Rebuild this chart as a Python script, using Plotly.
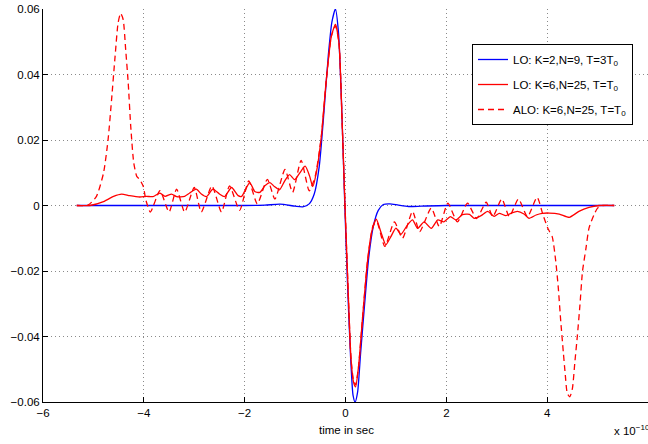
import plotly.graph_objects as go

# time axis in units of 1e-10 s
t_blue = [-5.33, -2.0, -1.6, -1.3, -1.0, -0.85, -0.72, -0.62, -0.52, -0.42, -0.34, -0.27, -0.2,
          -0.14, -0.08, -0.02, 0.04, 0.1, 0.15, 0.19, 0.24, 0.3, 0.38, 0.46, 0.55, 0.65, 0.75,
          0.88, 1.05, 1.25, 1.5, 2.0, 5.33]
y_blue = [0.0, 0.0, 0.0001, 0.0004, -0.0002, -0.0004, 0.0005, 0.0035, 0.012, 0.030, 0.046, 0.056, 0.060,
          0.053, 0.032, 0.003, -0.024, -0.046, -0.058, -0.060, -0.057, -0.045, -0.030, -0.016, -0.0065, -0.0015, 0.0003,
          0.0005, 0.0001, -0.0003, -0.0002, 0.0, 0.0]

t_lo = [-5.33, -5.07, -4.8, -4.6, -4.44, -4.28, -4.08, -3.95, -3.82, -3.68, -3.58, -3.45, -3.35, -3.19,
        -3.09, -2.96, -2.86, -2.76, -2.63, -2.5, -2.4, -2.26, -2.13, -2.06, -1.9, -1.8, -1.7, -1.6,
        -1.5, -1.41, -1.31, -1.21, -1.11, -1.01, -0.91, -0.8, -0.71, -0.65, -0.58, -0.48, -0.38,
        -0.28, -0.2, -0.13, -0.07, -0.01, 0.06, 0.11, 0.16, 0.2, 0.26, 0.34, 0.44, 0.52, 0.61, 0.7,
        0.8, 0.9, 1.0, 1.1, 1.23, 1.33, 1.43, 1.56, 1.7, 1.83, 1.95, 2.08, 2.19, 2.32, 2.46, 2.55,
        2.69, 2.82, 2.95, 3.05, 3.18, 3.28, 3.41, 3.54, 3.64, 3.78, 3.9, 4.04, 4.24, 4.44, 4.63,
        4.83, 5.03, 5.33]
y_lo = [0.0, 0.0, 0.0012, 0.0028, 0.0035, 0.003, 0.0026, 0.0028, 0.0027, 0.0038, 0.0028, 0.0035, 0.0027, 0.0028,
        0.0038, 0.005, 0.0035, 0.0027, 0.005, 0.0035, 0.0027, 0.0055, 0.003, 0.0028, 0.007, 0.0043, 0.004, 0.006,
        0.007, 0.0058, 0.0048, 0.0074, 0.0094, 0.0079, 0.0099, 0.012, 0.0089, 0.0058, 0.0099, 0.021, 0.0385,
        0.0517, 0.0553, 0.0497, 0.027, 0.0, -0.029, -0.047, -0.054, -0.0554, -0.049, -0.034, -0.0166, -0.008, -0.0042, -0.008,
        -0.012, -0.0095, -0.0069, -0.0088, -0.0059, -0.0044, -0.007, -0.005, -0.007, -0.0044, -0.005, -0.0034, -0.0044, -0.0028, -0.0027, -0.0039,
        -0.0031, -0.0018, -0.0033, -0.0024, -0.0031, -0.0024, -0.0018, -0.0026, -0.0039, -0.0029, -0.0024, -0.0023, -0.0026, -0.0036, -0.0018,
        -0.0006, 0.0, 0.0]

t_alo = [-5.33, -5.1, -4.94, -4.8, -4.71, -4.64, -4.57, -4.51, -4.46, -4.41, -4.36, -4.31, -4.26, -4.2,
         -4.14, -4.08, -4.01, -3.96, -3.87, -3.68, -3.5, -3.35, -3.19, -3.0, -2.86, -2.65, -2.46, -2.3,
         -2.1, -1.92, -1.75, -1.55, -1.4, -1.2, -1.05, -0.88, -0.72, -0.6, -0.48, -0.38, -0.28, -0.2,
         -0.13, -0.07, -0.01, 0.06, 0.11, 0.16, 0.2, 0.26, 0.34, 0.44, 0.55, 0.62, 0.78, 0.97, 1.13,
         1.33, 1.47, 1.7, 1.86, 2.03, 2.22, 2.42, 2.6, 2.79, 2.92, 3.1, 3.25, 3.43, 3.61, 3.8, 3.92,
         4.02, 4.1, 4.17, 4.22, 4.27, 4.32, 4.36, 4.4, 4.45, 4.5, 4.55, 4.6, 4.65, 4.7, 4.77, 4.83,
         4.93, 5.0, 5.1, 5.33]
y_alo = [0.0, 0.0002, 0.0028, 0.0099, 0.020, 0.0323, 0.0456, 0.0558, 0.0587, 0.0568, 0.0476, 0.0375, 0.0242, 0.013,
         0.0089, 0.0079, 0.0058, 0.0017, -0.002, 0.0045, -0.002, 0.005, -0.002, 0.0055, -0.002, 0.006, -0.002, 0.006,
         -0.0015, 0.0075, 0.0005, 0.008, 0.002, 0.011, 0.004, 0.0138, 0.0045, 0.009, 0.021, 0.0385, 0.0517, 0.0548,
         0.0497, 0.027, 0.0, -0.029, -0.047, -0.0535, -0.0548, -0.049, -0.034, -0.0166, -0.006, -0.005, -0.0125, -0.005, -0.010,
         -0.0018, -0.008, -0.0008, -0.0064, 0.0007, -0.005, 0.0007, -0.004, 0.001, -0.0034, 0.002, -0.0034, 0.002, -0.0034, 0.0025, -0.003,
         -0.0072, -0.0095, -0.017, -0.025, -0.0355, -0.0447, -0.0518, -0.0574, -0.0584, -0.0559, -0.0477, -0.0396, -0.0304, -0.0202, -0.013, -0.0069,
         -0.0028, -0.0008, 0.0, 0.0]

x_ticks = [-6, -4, -2, 0, 2, 4, 6]
x_labels = ["−6", "−4", "−2", "0", "2", "4", "6"]
y_ticks = [-0.06, -0.04, -0.02, 0, 0.02, 0.04, 0.06]
y_labels = ["−0.06", "−0.04", "−0.02", "0", "0.02", "0.04", "0.06"]

FONT = "Liberation Sans, Arial, Helvetica, sans-serif"
FS = 11.5

fig = go.Figure()
fig.add_trace(go.Scatter(x=t_blue, y=y_blue, mode="lines", name="LO: K=2,N=9, T=3T<sub>0</sub>",
                         line=dict(color="#0000ff", width=1.3, shape="spline", smoothing=0.6),
                         legendgroup="a"))
fig.add_trace(go.Scatter(x=t_lo, y=y_lo, mode="lines", name="LO: K=6,N=25, T=T<sub>0</sub>",
                         line=dict(color="#ff0000", width=1.3, shape="spline", smoothing=0.6),
                         legendgroup="b"))
fig.add_trace(go.Scatter(x=t_alo, y=y_alo, mode="lines", name="ALO: K=6,N=25, T=T<sub>0</sub>",
                         line=dict(color="#ff0000", width=1.3, dash="6px,4px", shape="spline", smoothing=0.6),
                         legendgroup="c"))

axis_common = dict(showline=True, linecolor="black", linewidth=1, mirror=False,
                   ticks="inside", ticklen=5, tickcolor="black", tickwidth=1,
                   showgrid=True, gridcolor="#8a8a8a", griddash="1px,3px", gridwidth=1,
                   zeroline=False, automargin=False,
                   tickfont=dict(family=FONT, size=FS, color="black"))

fig.update_xaxes(range=[-6, 6], tickvals=x_ticks, ticktext=x_labels, **axis_common)
fig.update_yaxes(range=[-0.06, 0.06], tickvals=y_ticks, ticktext=y_labels, **axis_common)

fig.update_layout(
    width=648, height=444,
    margin=dict(l=43, r=0, t=9, b=42),
    paper_bgcolor="white", plot_bgcolor="white",
    font=dict(family=FONT, size=FS, color="black"),
    legend=dict(x=(472 - 43) / 605, y=(402 - 44) / 393, xanchor="left", yanchor="top",
                bgcolor="white", bordercolor="black", borderwidth=1,
                tracegroupgap=6, font=dict(family=FONT, size=FS)),
    annotations=[
        dict(text="time in sec", x=(346 - 43) / 605, y=(402 - 430) / 393, xref="paper", yref="paper",
             xanchor="center", yanchor="middle", showarrow=False,
             font=dict(family=FONT, size=FS)),
        dict(text="x 10<sup>−10</sup>", x=(612 - 43) / 605, y=(402 - 430) / 393, xref="paper", yref="paper",
             xanchor="left", yanchor="middle", showarrow=False,
             font=dict(family=FONT, size=FS)),
    ],
)

fig.write_html("out.html", config={"displayModeBar": False},
               post_script="document.body.style.margin='0';document.body.style.overflow='hidden';")
